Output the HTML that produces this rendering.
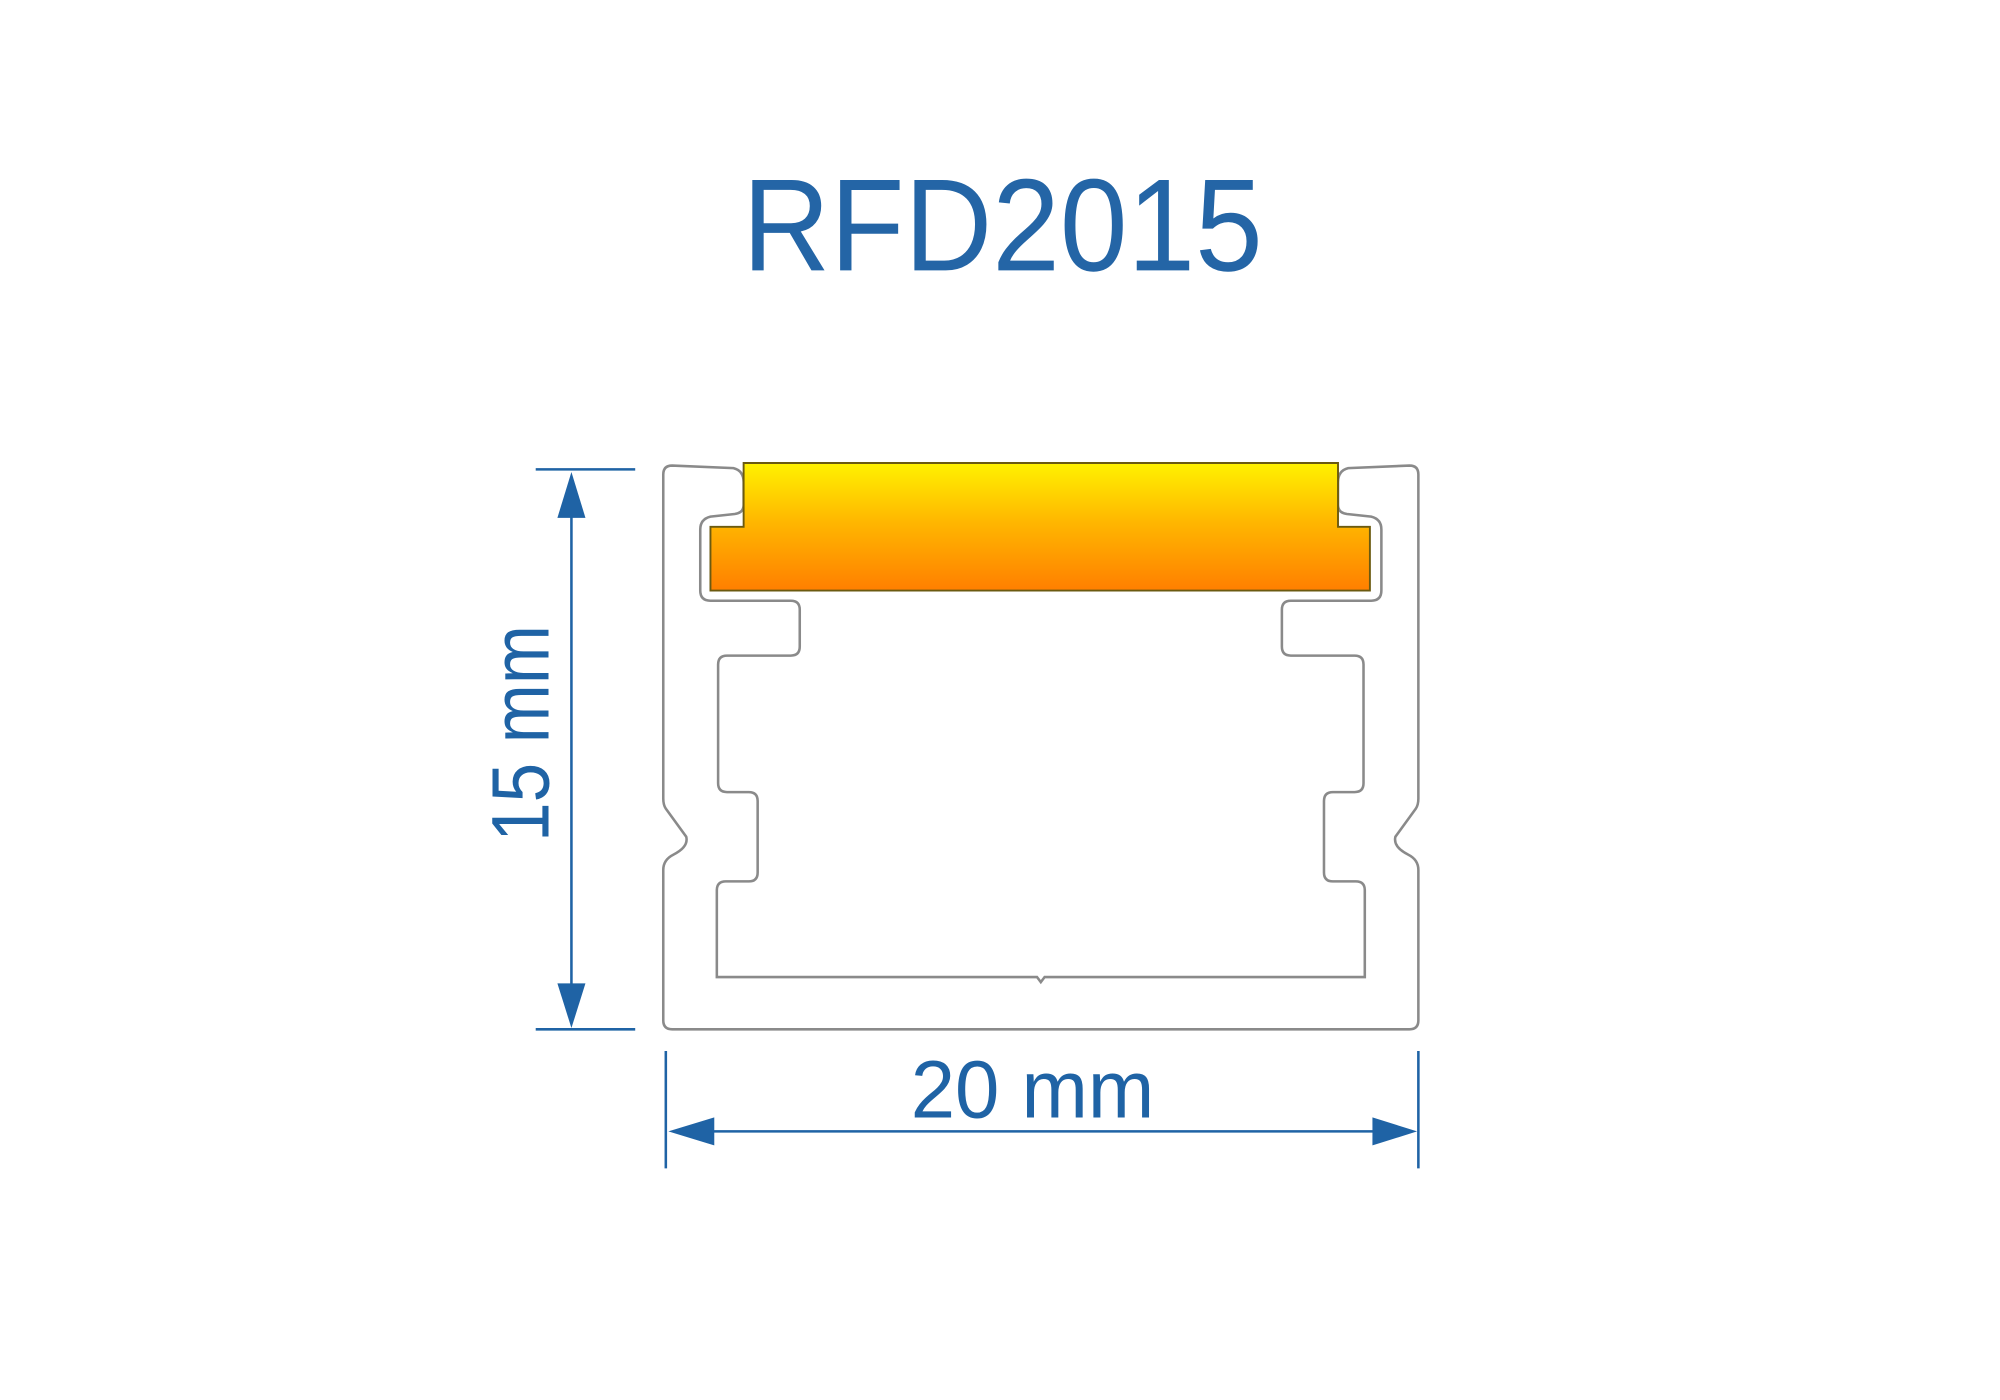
<!DOCTYPE html>
<html><head><meta charset="utf-8"><style>html,body{margin:0;padding:0;background:#fff}svg{display:block}</style></head>
<body>
<svg width="2000" height="1400" viewBox="0 0 1568 1097.6" xmlns="http://www.w3.org/2000/svg">
<defs>
<linearGradient id="g" x1="0" y1="0" x2="0" y2="1">
<stop offset="0" stop-color="#fff200"/>
<stop offset="0.45" stop-color="#ffb800"/>
<stop offset="1" stop-color="#ff7f00"/>
</linearGradient>
</defs>
<rect width="1568" height="1097.6" fill="#fff"/>
<text x="582" y="212" font-family="Liberation Sans, sans-serif" font-size="103" fill="#2465a6" textLength="408" lengthAdjust="spacingAndGlyphs">RFD2015</text>

<path d="M816,807 L527,807 Q520,807 520,800 L520,682 Q520,674 528,670 Q540,664 538,656 L522,634 Q520,631 520,626 L520,372 Q520,365 527,365 L575,367 Q583,369 583,378 L583,396 Q583,402 576,403 L557,405 Q549,407 549,415 L549,463 Q549,471 557,471 L620,471 Q627,471 627,478 L627,507 Q627,514 620,514 L570,514 Q563,514 563,521 L563,614 Q563,621 570,621 L587,621 Q594,621 594,628 L594,684 Q594,691 587,691 L569,691 Q562,691 562,698 L562,766 L813,766 L816,770 L819,766 L1070,766 L1070,698 Q1070,691 1063,691 L1045,691 Q1038,691 1038,684 L1038,628 Q1038,621 1045,621 L1062,621 Q1069,621 1069,614 L1069,521 Q1069,514 1062,514 L1012,514 Q1005,514 1005,507 L1005,478 Q1005,471 1012,471 L1075,471 Q1083,471 1083,463 L1083,415 Q1083,407 1075,405 L1056,403 Q1049,402 1049,396 L1049,378 Q1049,369 1057,367 L1105,365 Q1112,365 1112,372 L1112,626 Q1112,631 1110,634 L1094,656 Q1092,664 1104,670 Q1112,674 1112,682 L1112,800 Q1112,807 1105,807 Z" fill="none" stroke="#8a8a8a" stroke-width="2"/>

<path d="M583,363 L1049,363 L1049,413 L1074,413 L1074,463 L557,463 L557,413 L583,413 Z" fill="url(#g)" stroke="#6b5a10" stroke-width="1.5"/>

<g stroke="#1f63a5" stroke-width="2" fill="#1f63a5">
<line x1="420" y1="368" x2="498" y2="368"/>
<line x1="420" y1="807" x2="498" y2="807"/>
<line x1="448" y1="400" x2="448" y2="776"/>
<path d="M448,370 L459,406 L437,406 Z" stroke="none"/>
<path d="M448,806 L459,771 L437,771 Z" stroke="none"/>
<line x1="522" y1="824" x2="522" y2="916"/>
<line x1="1112" y1="824" x2="1112" y2="916"/>
<line x1="555" y1="887" x2="1080" y2="887"/>
<path d="M524,887 L560,876 L560,898 Z" stroke="none"/>
<path d="M1111,887 L1076,876 L1076,898 Z" stroke="none"/>
</g>
<text x="714" y="876" font-family="Liberation Sans, sans-serif" font-size="64" fill="#1f63a5" textLength="191" lengthAdjust="spacingAndGlyphs">20 mm</text>
<text transform="translate(430,660) rotate(-90)" x="0" y="0" font-family="Liberation Sans, sans-serif" font-size="64" fill="#1f63a5" textLength="170" lengthAdjust="spacingAndGlyphs">15 mm</text>
</svg>
</body></html>
